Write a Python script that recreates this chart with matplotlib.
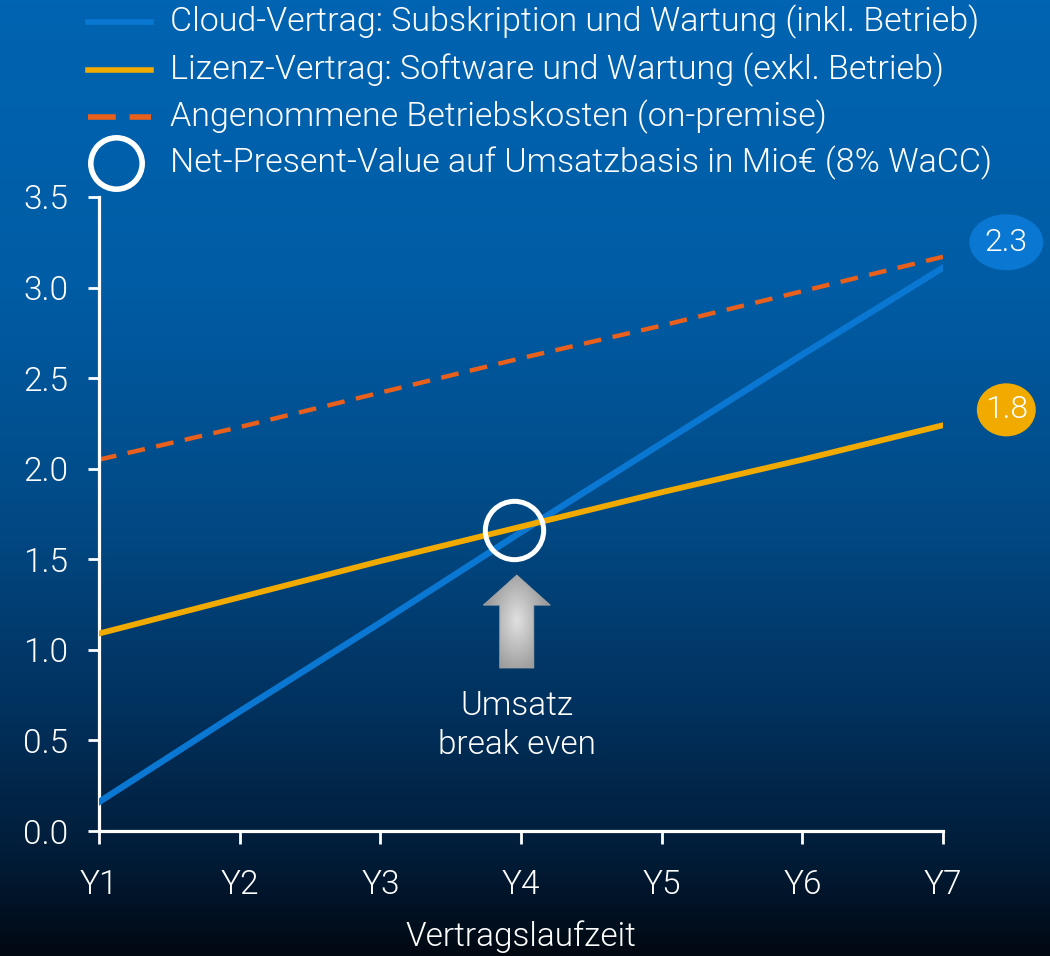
import numpy as np
import matplotlib.pyplot as plt
from matplotlib.colors import LinearSegmentedColormap
from matplotlib.lines import Line2D
from matplotlib.patches import Ellipse, FancyArrow

plt.rcParams['font.family'] = ['Roboto', 'DejaVu Sans']
plt.rcParams['font.weight'] = 300
plt.rcParams['axes.labelweight'] = 300

years = ["Y1", "Y2", "Y3", "Y4", "Y5", "Y6", "Y7"]
cloud = [0.16, 0.66, 1.15, 1.65, 2.14, 2.63, 3.11]
lizenz = [1.09, 1.29, 1.49, 1.68, 1.87, 2.05, 2.24]
betrieb = [2.05, 2.23, 2.42, 2.61, 2.79, 2.98, 3.17]
labels = ["Cloud-Vertrag: Subskription und Wartung (inkl. Betrieb)",
          "Lizenz-Vertrag: Software und Wartung (exkl. Betrieb)",
          "Angenommene Betriebskosten (on-premise)",
          "Net-Present-Value auf Umsatzbasis in Mio€ (8% WaCC)"]
breakeven = (2.95, 1.66)
npv_cloud = (6.45, 3.25, "2.3")
npv_lizenz = (6.45, 2.325, "1.8")

c_blue = "#0a78d2"
c_gold = "#f0aa00"
c_orange = "#e8601c"

W, H = 1050, 956
fig = plt.figure(figsize=(W / 100, H / 100), dpi=100)

# background gradient
bg = fig.add_axes([0, 0, 1, 1], zorder=-10)
cmap = LinearSegmentedColormap.from_list("bg", [
    (0.0, "#0064b2"), (0.3, "#005ca4"), (0.55, "#024984"),
    (0.75, "#01305c"), (0.9, "#011c37"), (1.0, "#020912")])
bg.imshow(np.linspace(0, 1, 256)[:, None], aspect="auto", cmap=cmap, extent=[0, 1, 0, 1])
bg.axis("off")

ax = fig.add_axes([99 / W, 1 - 831 / H, 844 / W, 634 / H])
ax.patch.set_alpha(0)
x = np.arange(len(years))

ax.plot(x, betrieb, color=c_orange, lw=3.2, dashes=(4, 2.6), zorder=2)
ax.plot(x, cloud, color=c_blue, lw=4.6, zorder=3)
ax.plot(x, lizenz, color=c_gold, lw=4.2, zorder=4)

ax.plot([breakeven[0]], [breakeven[1]], marker="o", ms=42, mfc="none", mec="white", mew=3.6, zorder=5)

# arrow with grey gradient
arr = FancyArrow(2.97, 0.90, 0, 0.513, width=0.242, head_width=0.476, head_length=0.166,
                 length_includes_head=True, facecolor="none", edgecolor="#a8a8a8", lw=0.6, zorder=6)
ax.add_patch(arr)
gx, gy = np.meshgrid(np.linspace(-1, 1, 60), np.linspace(-1, 1, 80))
shade = 0.88 - 0.3 * np.clip(np.sqrt(gx ** 2 + (gy * 0.8) ** 2), 0, 1)
img = ax.imshow(shade, cmap="gray", vmin=0, vmax=1, extent=[2.73, 3.21, 0.90, 1.42],
                aspect="auto", zorder=5, origin="lower")
img.set_clip_path(arr)

ax.text(2.97, 0.69, "Umsatz", color="white", fontsize=24, ha="center", va="center")
ax.text(2.97, 0.475, "break even", color="white", fontsize=24, ha="center", va="center")

# npv badges
ax.add_patch(Ellipse(npv_cloud[:2], 0.526, 0.309, facecolor=c_blue, edgecolor="none", clip_on=False))
ax.text(npv_cloud[0], npv_cloud[1], npv_cloud[2], color="white", fontsize=23, ha="center", va="center")
ax.add_patch(Ellipse(npv_lizenz[:2], 0.419, 0.293, facecolor=c_gold, edgecolor="none", clip_on=False))
ax.text(npv_lizenz[0], npv_lizenz[1], npv_lizenz[2], color="white", fontsize=23, ha="center", va="center")

ax.set_xlim(0, 6)
ax.set_ylim(0, 3.5)
ax.set_xticks(x)
ax.set_xticklabels(years)
yt = np.arange(0, 3.51, 0.5)
ax.set_yticks(yt)
ax.set_yticklabels([f"{v:.1f}" for v in yt])
for s in ["top", "right"]:
    ax.spines[s].set_visible(False)
for s in ["left", "bottom"]:
    ax.spines[s].set_color("white")
    ax.spines[s].set_linewidth(2.3)
ax.tick_params(axis="x", colors="white", labelsize=24, length=9, width=2, pad=18)
ax.tick_params(axis="y", colors="white", labelsize=24, length=8, width=2, pad=14)
ax.set_xlabel("Vertragslaufzeit", color="white", fontsize=24, fontweight=300, labelpad=14)

# legend, drawn in figure pixel coordinates
def fx(px):
    return px / W

def fy(py):
    return 1 - py / H

rows = [22, 70, 117, 163]
fig.add_artist(Line2D([fx(88), fx(151)], [fy(rows[0])] * 2, color=c_blue, lw=4))
fig.add_artist(Line2D([fx(88), fx(151)], [fy(rows[1])] * 2, color=c_gold, lw=4))
fig.add_artist(Line2D([fx(88), fx(151)], [fy(rows[2])] * 2, color=c_orange, lw=4, dashes=(5, 2.5)))
fig.add_artist(Line2D([fx(116)], [fy(rows[3])], marker="o", ms=37, mfc="none", mec="white", mew=4))
for r, lab in zip(rows, labels):
    fig.text(fx(170), fy(r), lab, color="white", fontsize=24.5, ha="left", va="center")

fig.savefig("out.png", dpi=100)
